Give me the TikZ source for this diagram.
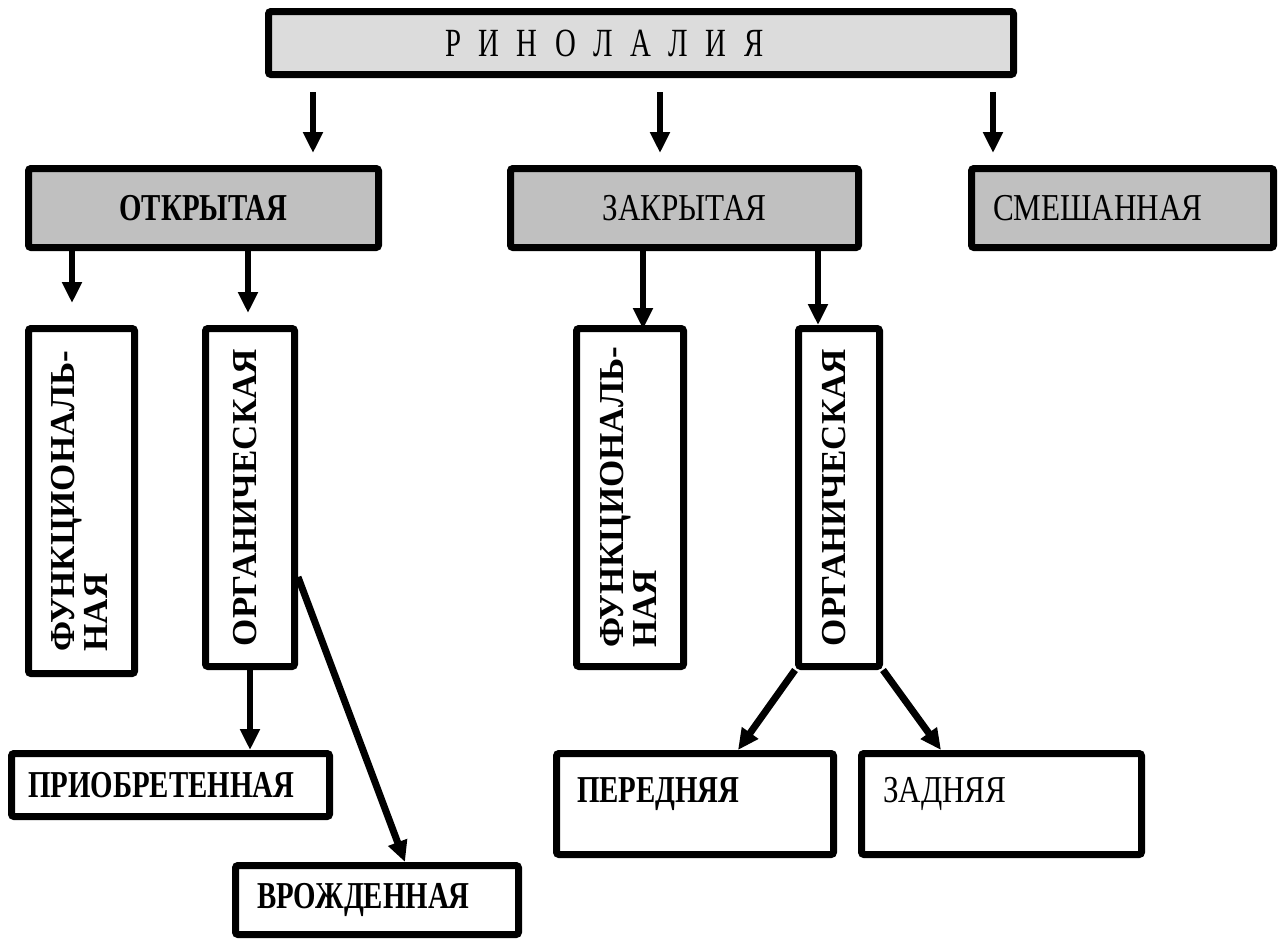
\documentclass[tikz,border=0pt]{standalone}
\usepackage{fontspec}
\usepackage{graphicx}
\usetikzlibrary{arrows.meta}
\setmainfont{Liberation Serif}
\newfontfamily\cfont[FakeStretch=0.76]{Liberation Serif}
\newfontfamily\rfont[FakeStretch=0.82]{Liberation Serif}
\newfontfamily\tfont[FakeStretch=0.72]{Liberation Serif}
\definecolor{titlegray}{RGB}{220,220,220}
\definecolor{boxgray}{RGB}{192,192,192}
\newcommand\mkvert[1]{\rotatebox{90}{\fontsize{35}{33}\selectfont\bfseries\begin{tabular}{@{}l@{}}#1\end{tabular}}}
\begin{document}
\begin{tikzpicture}[x=1pt,y=-1pt,
  box/.style={draw=black, line width=7pt, rounded corners=2.5pt, fill=white, inner sep=0pt},
  graybox/.style={box, fill=boxgray},
  hbold/.style={font=\cfont\bfseries\fontsize{38}{42}\selectfont},
  hreg/.style={font=\rfont\fontsize{38}{42}\selectfont},
  arr/.style={line width=6pt, -{Triangle[width=19pt,length=21pt]}},
  ]
\useasboundingbox[fill=white] (0,0) rectangle (1282,940);

% title
\node[box, fill=titlegray, minimum width=745pt, minimum height=63pt,
      text width=392pt, inner xsep=176.5pt, align=left,
      font=\tfont\fontsize{40}{44}\selectfont]
      (title) at (641,43) {\spaceskip=17.5pt\relax Р И Н О Л А Л И Я};

% second row
\node[graybox, hbold, minimum width=350pt, minimum height=79pt] (otkr) at (203.5,208) {ОТКРЫТАЯ};
\node[graybox, hreg, minimum width=348pt, minimum height=79pt] (zakr) at (684.5,208) {ЗАКРЫТАЯ};
\node[graybox, hreg, minimum width=302pt, minimum height=79pt,
      text width=259pt, inner xsep=21.5pt, align=left] (smesh) at (1122.5,208) {СМЕШАННАЯ};

% vertical boxes
\node[box, minimum width=106pt, minimum height=345pt] (F1) at (81.5,501) {\hspace*{6pt}\mkvert{ФУНКЦИОНАЛЬ-\\НАЯ}};
\node[box, minimum width=89pt, minimum height=338pt] (O1) at (250,497.5) {\mkvert{ОРГАНИЧЕСКАЯ}};
\node[box, minimum width=107pt, minimum height=338pt] (F2) at (630,497.5) {\hspace*{6pt}\mkvert{ФУНКЦИОНАЛЬ-\\НАЯ}};
\node[box, minimum width=81pt, minimum height=338pt] (O2) at (839,497.5) {\mkvert{ОРГАНИЧЕСКАЯ}};

% bottom boxes
\node[box, hbold, minimum width=318pt, minimum height=63pt,
      text width=285pt, inner xsep=16.5pt, align=left] (prio) at (170.5,785) {ПРИОБРЕТЕННАЯ};
\node[box, hbold, minimum width=283pt, minimum height=69pt,
      text width=240pt, inner xsep=21.5pt, align=left] (vrozh) at (377,900) {ВРОЖДЕННАЯ};
\node[box, hbold, minimum width=277pt, minimum height=101pt,
      text width=236pt, inner xsep=20.5pt, align=left, text depth=28pt] (pered) at (695,804) {ПЕРЕДНЯЯ};
\node[box, hreg, minimum width=280pt, minimum height=101pt,
      text width=237pt, inner xsep=21.5pt, align=left, text depth=28pt] (zadn) at (1001.5,804) {ЗАДНЯЯ};

% arrows from title
\draw[arr, shorten <=14pt, shorten >=12pt] (title.south -| 313,0) -- (otkr.north -| 313,0);
\draw[arr, shorten <=14pt, shorten >=12pt] (title.south -| 660,0) -- (zakr.north -| 660,0);
\draw[arr, shorten <=14pt, shorten >=12pt] (title.south -| 993,0) -- (smesh.north -| 993,0);

% from ОТКРЫТАЯ
\draw[arr, shorten >=22pt] (otkr.south -| 72,0) -- (F1.north -| 72,0);
\draw[arr, shorten >=12pt] (otkr.south -| 248,0) -- (O1.north -| 248,0);

% from ЗАКРЫТАЯ
\draw[arr, shorten >=-4pt] (zakr.south -| 643,0) -- (F2.north -| 643,0);
\draw[arr] (zakr.south -| 818,0) -- (O2.north -| 818,0);

% from left ОРГАНИЧЕСКАЯ
\draw[arr, line width=6.5pt] (O1.south -| 250,0) -- (prio.north -| 250,0);
\draw[arr, line width=7pt] (O1.east |- 0,577) -- (vrozh.north -| 405,0);

% from right ОРГАНИЧЕСКАЯ
\draw[arr, line width=7pt] (O2.south west) -- (pered.north -| 738,0);
\draw[arr, line width=7pt] (O2.south east) -- (zadn.north -| 941,0);
\end{tikzpicture}
\end{document}
